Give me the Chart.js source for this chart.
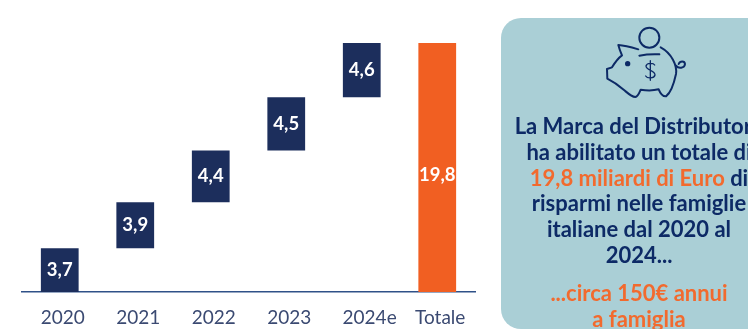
<!DOCTYPE html>
<html lang="it">
<head>
<meta charset="utf-8">
<title>Risparmi Marca del Distributore</title>
<script src="https://cdn.jsdelivr.net/npm/chart.js@4/dist/chart.umd.min.js"></script>
<style>
  html, body { margin: 0; padding: 0; background: #fff; overflow: hidden; }
  #page { position: relative; width: 748px; height: 329px; overflow: hidden; font-family: Lato, sans-serif; }
  #savings { position: absolute; left: 0; top: 0; }
  .panel {
    position: absolute; left: 501px; top: 18px; width: 276px; height: 311px;
    background: #aacfd6; border-radius: 20px;
  }
  .piggy { position: absolute; left: 490px; top: 0; width: 258px; height: 165px; }
  .panel-text {
    position: absolute; left: 501px; top: 113px; width: 276px; margin: 0; white-space: nowrap;
    text-align: center; font-size: 22px; line-height: 25.8px; font-weight: 700; color: #0d2a66;
  }
  .panel-text span { color: #f26a2e; }
  .panel-note {
    position: absolute; left: 501px; top: 280px; width: 276px; margin: 0; white-space: nowrap;
    text-align: center; font-size: 22px; line-height: 25.5px; font-weight: 700; color: #f26a2e;
  }
</style>
</head>
<body>
<div id="page">
  <canvas id="savings" width="748" height="329"></canvas>
  <div class="panel"></div>
  <svg class="piggy" viewBox="0 0 774 495" fill="none" stroke="#0d2a66" stroke-width="6" stroke-linecap="round" stroke-linejoin="round">
    <circle cx="478" cy="113" r="30"/>
    <path d="M445 148 C425 142 405 136 385 135 C388 147 392 157 396 166 C382 176 372 192 366 202 L351 207 L352 236 C372 246 388 258 402 270 C414 280 424 290 436 291 C444 290 448 278 452 269 C470 272 490 272 506 268 C510 278 516 290 528 289 C540 280 552 250 558 222 C562 196 545 160 512 142"/>
    <path d="M448 167 C468 163 488 162 508 163"/>
    <path d="M558 197 C565 207 584 205 585 192 C584 182 570 182 566 192"/>
    <circle cx="413" cy="191" r="5" fill="#0d2a66"/>
    <path d="M494 195 C490 188 470 188 468 198 C468 212 496 210 495 225 C492 236 472 236 467 228 M481 182 V241" stroke-width="4"/>
  </svg>
  <p class="panel-text">La Marca del Distributore<br>ha abilitato un totale di<br><span>19,8 miliardi di Euro</span> di<br>risparmi nelle famiglie<br>italiane dal 2020 al<br>2024...</p>
  <p class="panel-note">...circa 150€ annui<br>a famiglia</p>
</div>

<script>
const categories = ['2020', '2021', '2022', '2023', '2024e', 'Totale'];
const yearValues = [3.7, 3.9, 4.4, 4.5, 4.6];
const totalValue = 19.8;

const navy = '#1c2e5c';
const orange = '#f15f22';

// each year starts where the previous one ended
let runningSum = 0;
const yearBars = yearValues.map((v) => {
  const bar = [runningSum, runningSum + v];
  runningSum += v;
  return bar;
});

const commaLabel = (v) => v.toFixed(1).replace('.', ',');

// white value written in the middle of each bar
const barLabels = {
  id: 'barLabels',
  afterDatasetsDraw(chart) {
    const ctx = chart.ctx;
    ctx.save();
    ctx.fillStyle = '#fff';
    ctx.font = '700 18.5px Lato';
    ctx.textAlign = 'center';
    ctx.textBaseline = 'middle';
    chart.getDatasetMeta(0).data.forEach((bar, i) => {
      const p = bar.getProps(['x', 'y', 'base'], true);
      if (yearValues[i] !== undefined) ctx.fillText(commaLabel(yearValues[i]), p.x, (p.y + p.base) / 2);
    });
    const total = chart.getDatasetMeta(1).data[5].getProps(['x', 'y', 'base'], true);
    ctx.fillText(commaLabel(totalValue), total.x, (total.y + total.base) / 2 + 8);
    ctx.restore();
  }
};

new Chart(document.getElementById('savings').getContext('2d'), {
  type: 'bar',
  data: {
    labels: categories,
    datasets: [
      { data: yearBars, backgroundColor: navy, yAxisID: 'y', grouped: false },
      { data: [null, null, null, null, null, totalValue], backgroundColor: orange, yAxisID: 'yTotal', grouped: false }
    ]
  },
  options: {
    responsive: false,
    animation: false,
    layout: { padding: { left: 22, right: 273, top: 0, bottom: 0 } },
    categoryPercentage: 1,
    barPercentage: 0.5,
    plugins: { legend: { display: false }, tooltip: { enabled: false } },
    scales: {
      x: {
        grid: { display: false },
        border: { color: '#2f5188', width: 1.5 },
        ticks: {
          color: '#3b4a72',
          font: { family: 'Lato', size: 19 },
          padding: 6,
          maxRotation: 0,
          labelOffset: 3,
          // 2024e sits a little further right than the other labels
          callback(value) {
            const label = this.getLabelForValue(value);
            return label === '2024e' ? '\u00a0\u00a0' + label : label;
          }
        },
        afterFit(scale) { scale.height = 37; }
      },
      // the total has its own scale, its bar reaches the same height as the last year
      y: { display: false, min: 0, max: 24.75 },
      yTotal: { display: false, min: 0, max: 23.22 }
    }
  },
  plugins: [barLabels]
});
</script>
</body>
</html>
